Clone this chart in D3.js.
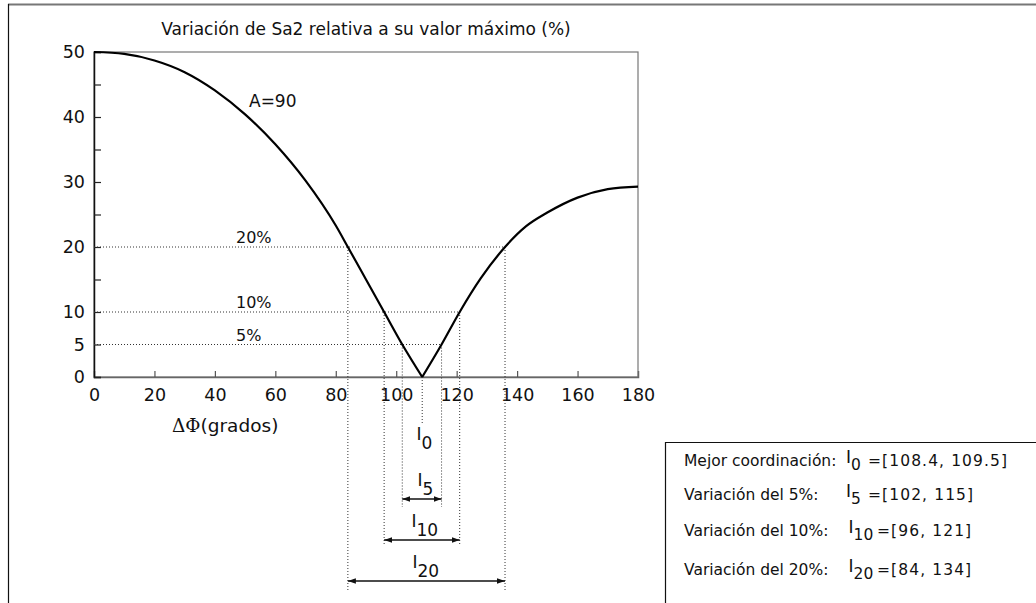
<!DOCTYPE html>
<html>
<head>
<meta charset="utf-8">
<script src="https://cdn.jsdelivr.net/npm/d3@7"></script>
<style>
  body { margin: 0; background: #fff; }
  svg text { font-family: "DejaVu Sans", sans-serif; fill: #111; }
</style>
</head>
<body>
<svg id="chart" width="1036" height="603"></svg>
<script>
// Variation of Sa2 (% of its maximum) against phase difference ΔΦ, A = 90
const angles    = [0, 10, 20, 30, 40, 50, 60, 70, 80, 84, 90, 96, 102, 108.6, 115, 121, 128, 136, 143, 150, 160, 170, 180];
const variation = [50, 49.7, 48.7, 46.9, 44.1, 40.4, 35.8, 30.2, 23.3, 20, 15, 10, 5, 0, 5, 10, 15.2, 20, 23.2, 25.3, 27.6, 28.9, 29.3];

const xTickValues = [0, 20, 40, 60, 80, 100, 120, 140, 160, 180];
const yTickLabels = [0, 5, 10, 20, 30, 40, 50];
const yAllTicks   = [0, 5, 10, 15, 20, 25, 30, 35, 40, 45, 50];

// tolerance levels and where the curve crosses them
const levels      = [20, 10, 5];
const levelLabels = ["20%", "10%", "5%"];
const levelLeft   = [84, 96, 102];
const levelRight  = [136, 121, 115];
const bestAngle   = 108.6;

// interval summary
const intervalSubs   = ["0", "5", "10", "20"];
const intervalRows   = ["Mejor coordinación:", "Variación del 5%:", "Variación del 10%:", "Variación del 20%:"];
const intervalValues = ["=[108.4, 109.5]", "=[102, 115]", "=[96, 121]", "=[84, 134]"];

const titleText = "Variación de Sa2 relativa a su valor máximo (%)";
const curveLabel = "A=90";

const svg = d3.select("#chart");
const L = 94, R = 638, T = 52, B = 377;
const x = d3.scaleLinear().domain([0, 180]).range([L, R]);
const y = d3.scaleLinear().domain([0, 50]).range([B, T]);

// outer frame (partly visible)
svg.append("line").attr("x1", 8).attr("x2", 1036).attr("y1", 4.5).attr("y2", 4.5)
  .attr("stroke", "#777").attr("stroke-width", 2);
svg.append("line").attr("x1", 8.5).attr("x2", 8.5).attr("y1", 4).attr("y2", 603)
  .attr("stroke", "#111").attr("stroke-width", 1.2);

// title
svg.append("text").attr("x", (L + R) / 2).attr("y", 35).attr("text-anchor", "middle")
  .attr("font-size", 17).text(titleText);

// plot frame
svg.append("rect").attr("x", L).attr("y", T).attr("width", R - L).attr("height", B - T)
  .attr("fill", "none").attr("stroke", "#777").attr("stroke-width", 1.2);

// x ticks (inward) and labels
const xAxis = d3.axisBottom(x).tickValues(xTickValues).tickSize(-6).tickPadding(12).tickFormat(d3.format("d"));
const gx = svg.append("g").attr("transform", `translate(0,${B})`).call(xAxis);
gx.select(".domain").attr("stroke", "#666").attr("stroke-width", 1.5);
gx.selectAll(".tick line").attr("stroke", "#555").attr("stroke-width", 1.2);
gx.selectAll(".tick").filter(d => d === 0 || d === 180).select("line").remove();
gx.selectAll("text").attr("font-size", 17.5).attr("font-family", "DejaVu Sans").attr("fill", "#111");

// y ticks (inward) and labels
const yAxis = d3.axisLeft(y).tickValues(yAllTicks).tickSize(-7).tickPadding(9)
  .tickFormat(d => yTickLabels.includes(d) ? d : "");
const gy = svg.append("g").attr("transform", `translate(${L},0)`).call(yAxis);
gy.select(".domain").attr("stroke", "#111").attr("stroke-width", 1.5);
gy.selectAll(".tick line").attr("stroke", "#222").attr("stroke-width", 1.2);
gy.selectAll("text").attr("font-size", 17.5).attr("font-family", "DejaVu Sans").attr("fill", "#111");

// x axis title with ΔΦ
const xt = svg.append("text").attr("x", 172).attr("y", 432).attr("font-size", 18.5);
xt.append("tspan").attr("font-family", "DejaVu Serif").text("ΔΦ");
xt.append("tspan").text("(grados)");

// dotted guides
const dot = sel => sel.attr("stroke", "#333").attr("stroke-width", 1).attr("stroke-dasharray", "1,2").attr("fill", "none");
const vEnds = [592, 545, 507];
levels.forEach((lv, i) => {
  svg.append("line").attr("x1", x(0)).attr("x2", x(levelRight[i]))
    .attr("y1", y(lv)).attr("y2", y(lv)).call(dot);
  svg.append("line").attr("x1", x(levelLeft[i])).attr("x2", x(levelLeft[i]))
    .attr("y1", y(lv)).attr("y2", vEnds[i]).call(dot);
  svg.append("line").attr("x1", x(levelRight[i])).attr("x2", x(levelRight[i]))
    .attr("y1", y(lv)).attr("y2", vEnds[i]).call(dot);
  svg.append("text").attr("x", 236).attr("y", y(lv) - 4).attr("font-size", 16).text(levelLabels[i]);
});
svg.append("line").attr("x1", x(bestAngle)).attr("x2", x(bestAngle))
  .attr("y1", y(0)).attr("y2", 425).call(dot);

// curve: two smooth branches meeting at the sharp minimum
const pts = angles.map((a, i) => [a, variation[i]]);
const iMin = variation.indexOf(d3.min(variation));
const line = d3.line().x(d => x(d[0])).y(d => y(d[1])).curve(d3.curveMonotoneX);
[pts.slice(0, iMin + 1), pts.slice(iMin)].forEach(seg => {
  svg.append("path").attr("d", line(seg)).attr("fill", "none")
    .attr("stroke", "#000").attr("stroke-width", 2.2).attr("stroke-linejoin", "miter");
});
svg.append("text").attr("x", 249).attr("y", 107).attr("font-size", 17).text(curveLabel);

// arrow marker
svg.append("defs").append("marker").attr("id", "arr")
  .attr("viewBox", "0 0 10 10").attr("refX", 10).attr("refY", 5)
  .attr("markerWidth", 8).attr("markerHeight", 8).attr("markerUnits", "userSpaceOnUse")
  .attr("orient", "auto-start-reverse")
  .append("path").attr("d", "M0,1.5L10,5L0,8.5Z").attr("fill", "#111");

// interval arrows (5%, 10%, 20%)
const arrowY = [581, 540, 499];
levels.forEach((lv, i) => {
  svg.append("line").attr("x1", x(levelLeft[i])).attr("x2", x(levelRight[i]))
    .attr("y1", arrowY[i]).attr("y2", arrowY[i])
    .attr("stroke", "#111").attr("stroke-width", 1.3)
    .attr("marker-start", "url(#arr)").attr("marker-end", "url(#arr)");
});

// interval names below the plot
const nameBase = [440, 486, 527, 568];
const nameX = [416.5, 417.5, 411.5, 412.5];
intervalSubs.forEach((s, i) => {
  const t = svg.append("text").attr("x", nameX[i]).attr("y", nameBase[i]).attr("font-size", 17);
  t.append("tspan").text("I");
  t.append("tspan").attr("dy", 9).text(s);
});

// summary box
svg.append("path").attr("d", "M665.5,603V442.5H1036").attr("fill", "none")
  .attr("stroke", "#111").attr("stroke-width", 1.2);
const rowBase = [466, 500, 536, 575];
intervalRows.forEach((r, i) => {
  const wide = intervalSubs[i].length > 1;
  svg.append("text").attr("x", 684).attr("y", rowBase[i]).attr("font-size", 15.5).text(r);
  const t = svg.append("text").attr("x", wide ? 848.5 : 846).attr("y", rowBase[i] - 3).attr("font-size", 17);
  t.append("tspan").text("I");
  t.append("tspan").attr("dy", 7).attr("font-size", 15.5).text(intervalSubs[i]);
  svg.append("text").attr("x", wide ? 877 : 868).attr("y", rowBase[i]).attr("font-size", 15.5)
    .attr("letter-spacing", 1.1).text(intervalValues[i]);
});
</script>
</body>
</html>
